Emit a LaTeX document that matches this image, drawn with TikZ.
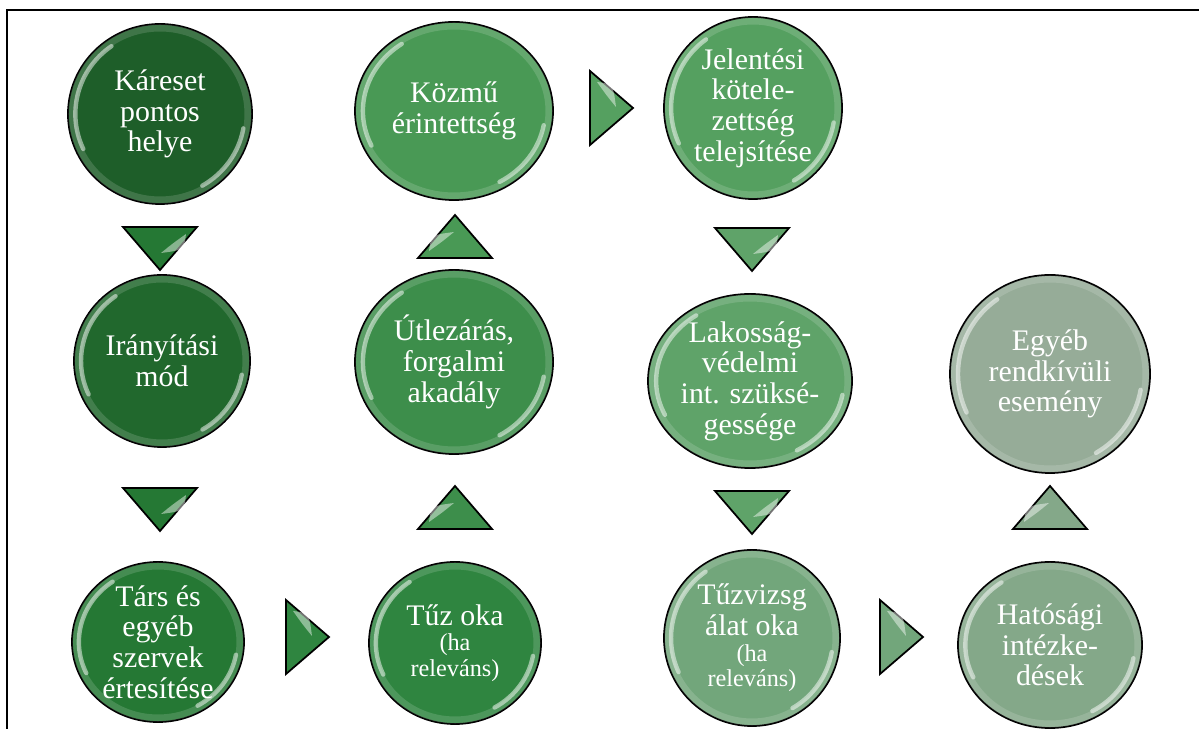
\documentclass[tikz,border=0pt]{standalone}
\usepackage{fontspec}
\setmainfont{Liberation Serif}

\definecolor{c1}{HTML}{1E5E29}
\definecolor{c2}{HTML}{21682D}
\definecolor{c3}{HTML}{257834}
\definecolor{c4}{HTML}{2F8540}
\definecolor{c5}{HTML}{3D8E4B}
\definecolor{c6}{HTML}{499955}
\definecolor{c7}{HTML}{55A060}
\definecolor{c8}{HTML}{5FA369}
\definecolor{c9}{HTML}{72A67B}
\definecolor{c10}{HTML}{84A889}
\definecolor{c11}{HTML}{96AC98}

\newcommand{\smalltxt}{\fontsize{13.8}{14}\selectfont}

\tikzset{
  bubble/.style={draw=black, line width=1pt},
  gloss/.style={white, opacity=0.5, line width=2.5pt, line cap=round},
  rim/.style={white, opacity=0.15, line width=4pt},
  chevron/.style={draw=black, line width=1pt, line join=miter},
  shine/.style={fill=white, opacity=0.45},
  bubbletext/.style={text=white, align=center, inner sep=0pt,
    font=\fontsize{17}{17.5}\selectfont},
}

\begin{document}
\begin{tikzpicture}[x=0.02cm,y=0.02cm]
  \useasboundingbox (0,0) rectangle (1199,729);
  % frame
  \draw[line width=1.2pt] (7,0) -- (7,719) -- (1199,719);
  % bubbles
  \foreach \nm/\cx/\cy/\rx/\ry/\col/\txt in {
      kar/160/615/92/90/c1/{Káreset\\pontos\\helye},
      iran/162/368/88/86/c2/{Irányítási\\mód},
      tars/158/87/86/80/c3/{Társ és\\egyéb\\szervek\\értesítése},
      tuz/455/86/86/81/c4/{Tűz oka\\[-3pt]{\smalltxt(ha}\\[-3pt]{\smalltxt releváns)}},
      utl/454/367/99/92/c5/{Útlezárás,\\forgalmi\\akadály},
      kozmu/454/618/99/89/c6/{Közmű\\érintettség},
      jel/753/621/89/91/c7/{Jelentési\\kötele-\\zettség\\telejsítése},
      lak/750/348/102/87/c8/{Lakosság-\\védelmi\\int. szüksé-\\gessége},
      vizsg/752/91/88/88/c9/{Tűzvizsg\\álat oka\\[-3pt]{\smalltxt(ha}\\[-3pt]{\smalltxt releváns)}},
      hat/1050/84/92/83/c10/{Hatósági\\intézke-\\dések},
      egy/1050/355/100/99/c11/{Egyéb\\rendkívüli\\esemény}}
  {
    \filldraw[bubble, fill=\col] (\cx,\cy) ellipse[x radius=\rx, y radius=\ry];
    \draw[rim] (\cx,\cy) ellipse[x radius=\rx-4, y radius=\ry-4];
    \draw[gloss] (\cx,\cy) ++({0.92*\rx*cos(125)},{0.92*\ry*sin(125)})
      arc[start angle=125, end angle=205, x radius=0.92*\rx, y radius=0.92*\ry];
    \draw[gloss] (\cx,\cy) ++({0.92*\rx*cos(-10)},{0.92*\ry*sin(-10)})
      arc[start angle=-10, end angle=-60, x radius=0.92*\rx, y radius=0.92*\ry];
    \node[bubbletext] (\nm) at (\cx,\cy) {\txt};
  }
  % chevrons
  \foreach \cx/\cy/\ang/\col in {
      160/481/-90/c3, 160/220/-90/c3, 307/92/0/c4,
      455/221/90/c5, 455/492/90/c6, 611/621/0/c7,
      752/480/-90/c8, 752/217/-90/c8, 901/92/0/c9,
      1050/221/90/c10}
  {
    \begin{scope}[shift={(\cx,\cy)}, rotate=\ang]
      \filldraw[chevron, fill=\col] (-21,37) -- (22,0) -- (-21,-37) -- cycle;
      \path[shine] (-14,26) .. controls (2,24) .. (5,1)
        .. controls (-4,12) .. cycle;
    \end{scope}
  }
\end{tikzpicture}
\end{document}
